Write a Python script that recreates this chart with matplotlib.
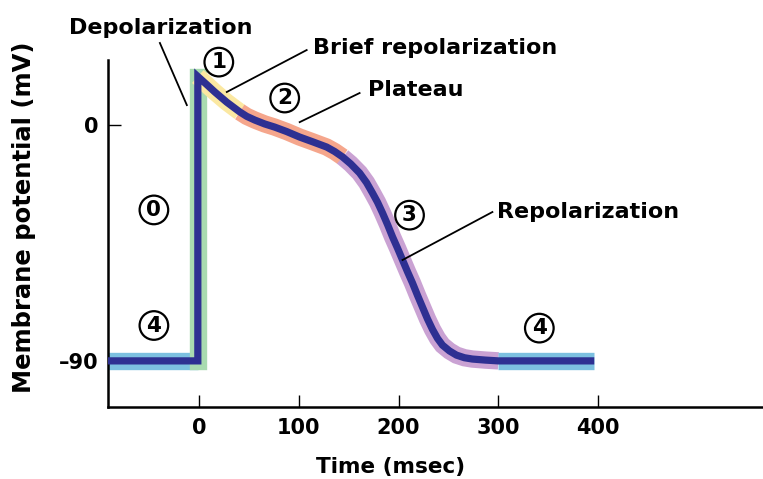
import matplotlib
matplotlib.use("Agg")
import matplotlib.pyplot as plt
import numpy as np

# Action potential trace (time in msec, potential in mV)
t_ms = [-91, -1, -1, 8, 16, 28, 41, 48, 56, 66, 76, 88, 101, 114, 128, 136,
        144, 152, 161, 168, 174, 179, 184, 189, 194, 199, 204, 209, 214, 219,
        224, 229, 234, 239, 244, 251, 258, 266, 274, 287, 300, 396]
v_mv = [-90, -90, 18.5, 15.4, 12.6, 8.7, 5.0, 3.3, 1.9, 0.4, -0.8, -2.5,
        -4.6, -6.4, -8.4, -10.1, -12.2, -14.8, -18.3, -22, -26, -29.5,
        -33.6, -38, -42.7, -47, -51.5, -56, -60.3, -65, -69.5, -74, -78,
        -81.4, -84, -86.2, -87.8, -88.8, -89.3, -89.7, -90, -90]

# phase bands: (phase, first index, last index) into the trace
phase_spans = [("4", 0, 1), ("0", 1, 2), ("1", 2, 6), ("2", 6, 16), ("3", 16, 40), ("4", 40, 41)]
phase_colors = {"0": "#a9dbb0", "1": "#fbe8a2", "2": "#f5a68c", "3": "#caa2d3", "4": "#7cc0e0"}

# circled phase numbers (label, time, mV)
circle_labels = ["1", "2", "3", "0", "4", "4"]
circle_t = [20, 86, 211, -45, -45, 341]
circle_v = [24, 10.3, -34.4, -32.4, -76.5, -77.5]

# named callouts: text, point on curve, end of leader, text anchor
callouts = [
    ("Depolarization", (-12, 7.6), (-39, 31.3), (-38, 37), "center"),
    ("Brief repolarization", (28, 12.6), (108, 28.6), (114, 29.4), "left"),
    ("Plateau", (101, 1.1), (161, 12.2), (169, 13.4), "left"),
    ("Repolarization", (204, -51.5), (294, -33.2), (299, -33.2), "left"),
]

xticks = [0, 100, 200, 300, 400]
yticks = [0, -90]
ytick_labels = ["0", "\u201390"]

plt.rcParams["font.family"] = ["DejaVu Sans"]
plt.rcParams["font.weight"] = "bold"

fig = plt.figure(figsize=(7.63, 4.79), dpi=100)
ax = fig.add_axes([0.1415, 0.1503, 0.8585, 0.7244])

t = np.array(t_ms)
v = np.array(v_mv)

# coloured bands underneath the trace
for ph, i0, i1 in phase_spans:
    cap = "projecting" if ph == "0" else "butt"
    ax.plot(t[i0:i1 + 1], v[i0:i1 + 1], color=phase_colors[ph], lw=12.5,
            solid_capstyle=cap, solid_joinstyle="miter", zorder=2)

# the dark trace on top
ax.plot(t, v, color="#2e3092", lw=5.2, solid_joinstyle="miter",
        solid_capstyle="butt", zorder=3)

for lab, x, y in zip(circle_labels, circle_t, circle_v):
    ax.text(x, y, lab, ha="center", va="center", fontsize=15.5, fontweight="bold",
            bbox=dict(boxstyle="circle,pad=0.2", fc="white", ec="black", lw=1.6),
            zorder=5, clip_on=False)

for txt, p0, p1, pt, ha in callouts:
    ax.plot([p0[0], p1[0]], [p0[1], p1[1]], color="black", lw=1.3, zorder=4,
            clip_on=False)
    ax.text(pt[0], pt[1], txt, ha=ha, va="center", fontsize=16,
            fontweight="bold", clip_on=False)

ax.set_xlim(-91, 565)
ax.set_ylim(-107.6, 24.8)
ax.spines["top"].set_visible(False)
ax.spines["right"].set_visible(False)
ax.spines["left"].set_linewidth(1.8)
ax.spines["bottom"].set_linewidth(1.8)

ax.set_xticks(xticks)
ax.set_xticklabels([str(x) for x in xticks])
ax.set_yticks(yticks)
ax.set_yticklabels(ytick_labels)
ax.tick_params(direction="in", length=9, width=1, labelsize=15, pad=8)
ax.tick_params(axis="y", pad=7)

ax.set_xlabel("Time (msec)", fontsize=15.5, fontweight="bold", va="center")
ax.set_ylabel("Membrane potential (mV)", fontsize=17.5, fontweight="bold", va="center")
ax.xaxis.set_label_coords((391 - 108) / 655, -(467 - 407) / 347)
ax.yaxis.set_label_coords(-(108 - 24) / 655, (407 - 217) / 347)

fig.savefig("out.png", dpi=100)
